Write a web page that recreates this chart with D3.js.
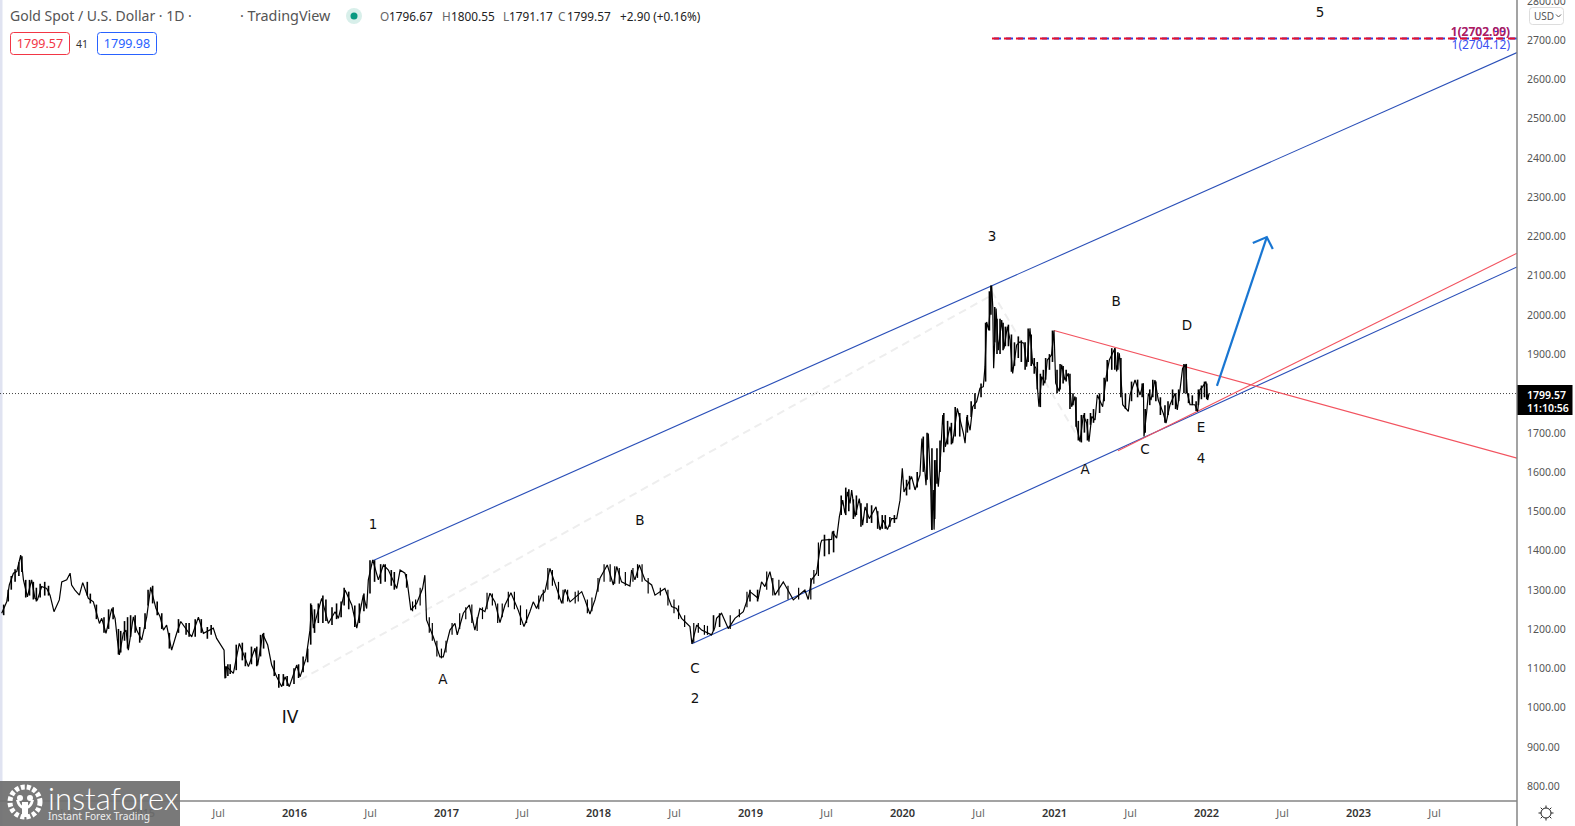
<!DOCTYPE html>
<html><head><meta charset="utf-8">
<script src="https://cdn.jsdelivr.net/npm/d3@7"></script>
<style>html,body{margin:0;padding:0;background:#fff;overflow:hidden}svg{display:block}text{font-family:"Noto Sans",sans-serif}</style>
</head><body><svg id="c" width="1575" height="826"></svg>
<script>
const priceYears=[
2014.077,2014.110,2014.127,2014.154,2014.176,2014.202,2014.220,2014.246,2014.274,2014.296,2014.312,2014.340,2014.373,2014.395,2014.421,2014.456,2014.472,2014.505,2014.527,2014.537,2014.559,2014.588,2014.610,2014.647,2014.680,2014.720,2014.735,2014.763,2014.801,2014.823,2014.838,2014.851,2014.877,2014.895,2014.910,2014.943,2014.965,2014.998,
2015.031,2015.057,2015.092,2015.119,2015.141,2015.162,2015.195,2015.228,2015.255,2015.327,2015.371,2015.404,2015.469,2015.491,2015.540,2015.546,2015.557,2015.601,2015.640,2015.700,2015.743,2015.761,2015.794,2015.827,2015.853,2015.886,2015.919,2015.941,2015.969,
2016.018,2016.040,2016.079,2016.105,2016.116,2016.127,2016.182,2016.226,2016.270,2016.292,2016.336,2016.380,2016.413,2016.456,2016.478,2016.489,2016.518,2016.555,2016.588,2016.621,2016.676,2016.698,2016.730,2016.745,2016.769,2016.807,2016.846,2016.861,2016.872,2016.916,2016.960,2016.982,
2017.026,2017.059,2017.074,2017.114,2017.153,2017.190,2017.223,2017.256,2017.289,2017.322,2017.355,2017.388,2017.427,2017.475,2017.513,2017.552,2017.574,2017.596,2017.629,2017.651,2017.684,2017.717,2017.761,2017.783,2017.816,2017.893,2017.914,2017.947,2017.980,
2018.013,2018.061,2018.101,2018.123,2018.155,2018.210,2018.221,2018.243,2018.272,2018.309,2018.353,2018.375,2018.440,2018.484,2018.517,2018.550,2018.605,2018.618,2018.649,2018.682,2018.747,2018.769,2018.780,2018.813,2018.857,2018.901,2018.956,
2019.000,2019.054,2019.076,2019.098,2019.131,2019.164,2019.219,2019.285,2019.361,2019.383,2019.405,2019.438,2019.465,2019.472,2019.537,2019.542,2019.570,2019.588,2019.610,2019.625,2019.640,2019.658,2019.669,2019.691,2019.719,2019.741,2019.757,2019.785,2019.829,2019.855,2019.877,2019.904,2019.932,2019.965,2019.987,
2020.002,2020.013,2020.063,2020.086,2020.118,2020.131,2020.145,2020.158,2020.173,2020.189,2020.195,2020.206,2020.211,2020.224,2020.239,2020.254,2020.268,2020.285,2020.316,2020.333,2020.364,2020.404,2020.415,2020.426,2020.448,2020.465,2020.491,2020.513,2020.535,2020.546,2020.557,2020.570,2020.590,2020.597,2020.603,2020.619,2020.634,2020.656,2020.671,2020.693,2020.711,2020.728,2020.754,2020.776,2020.802,2020.820,2020.842,2020.859,2020.881,2020.901,2020.919,2020.940,2020.956,2020.984,
2021.000,2021.011,2021.035,2021.050,2021.072,2021.094,2021.116,2021.138,2021.149,2021.171,2021.193,2021.215,2021.230,2021.248,2021.270,2021.285,2021.320,2021.342,2021.364,2021.401,2021.412,2021.430,2021.452,2021.489,2021.500,2021.533,2021.566,2021.588,2021.592,2021.610,2021.621,2021.638,2021.664,2021.686,2021.719,2021.737,2021.763,2021.796,2021.811,2021.829,2021.846,2021.866,2021.877,2021.895,2021.927,2021.945,2021.960,2021.978,
2022.000,2022.011,2022.020];
const prices=[
1240,1269,1312,1342,1346,1388,1325,1282,1325,1278,1274,1308,1303,1286,1244,1274,1320,1325,1342,1312,1299,1286,1318,1278,1269,1214,1227,1189,1252,1227,1172,1134,1189,1197,1146,1231,1197,1172,
1231,1306,1252,1231,1197,1210,1146,1189,1219,1180,1230,1189,1202,1176,1146,1074,1104,1087,1163,1104,1151,1108,1187,1159,1108,1078,1053,1078,1053,
1108,1078,1125,1197,1261,1202,1278,1214,1244,1227,1299,1261,1202,1286,1252,1325,1376,1325,1363,1350,1303,1350,1342,1320,1248,1265,1303,1337,1223,1180,1129,1129,
1197,1214,1185,1240,1261,1197,1252,1244,1291,1269,1216,1261,1292,1248,1206,1244,1269,1252,1286,1295,1354,1316,1265,1301,1269,1295,1274,1238,1274,
1329,1363,1312,1359,1320,1309,1350,1325,1363,1325,1312,1286,1303,1257,1252,1227,1206,1162,1210,1197,1185,1204,1227,1240,1201,1227,1244,
1295,1278,1320,1308,1346,1286,1320,1274,1299,1275,1325,1342,1418,1426,1428,1448,1431,1486,1528,1494,1549,1520,1554,1486,1532,1464,1511,1481,1511,1452,1477,1453,1481,1481,1528,
1609,1549,1588,1554,1592,1685,1630,1566,1698,1562,1453,1554,1453,1630,1562,1643,1745,1664,1715,1673,1762,1698,1673,1740,1706,1766,1779,1813,1817,1868,1982,1961,2074,2021,1864,2016,1910,1987,1914,1970,1936,1851,1923,1931,1928,1868,1966,1877,1864,1766,1843,1826,1885,1898,
1960,1826,1805,1873,1834,1851,1766,1792,1715,1677,1745,1724,1677,1741,1732,1796,1766,1839,1885,1915,1856,1902,1771,1754,1796,1834,1796,1826,1690,1754,1800,1783,1834,1783,1749,1724,1771,1800,1758,1809,1864,1873,1800,1771,1771,1754,1809,1817,
1830,1783,1800];

// daily high/low ranges read where the bars bunch up
const barYears=[
2014.09,2014.12,2014.14,2014.165,2014.19,2014.21,2014.235,2014.26,2014.285,2014.305,2014.33,2014.36,2014.385,
2014.64,2014.66,2014.70,2014.75,2014.78,2014.81,2014.845,2014.86,2014.885,2014.905,2014.925,2014.955,2014.985,
2015.02,2015.04,2015.07,2015.10,2015.13,2015.18,2015.24,2015.29,2015.31,2015.35,2015.39,2015.43,2015.455,2015.55,2015.565,2015.58,2015.62,2015.66,2015.68,2015.72,2015.755,2015.78,2015.80,2015.87,2015.90,2015.93,2015.955,
2016.00,2016.03,2016.06,2016.09,2016.11,2016.135,2016.16,2016.19,2016.21,2016.25,2016.28,2016.31,2016.33,2016.36,2016.40,2016.43,2016.46,2016.50,2016.53,2016.57,2016.60,2016.64,2016.66,
2018.76,2018.80,2019.00,2019.05,
2019.49,2019.52,2019.55,2019.60,2019.63,2019.65,2019.68,2019.70,2019.73,2019.77,2019.80,2019.84,2019.87,2019.89,2019.92,2019.95,
2020.03,2020.05,2020.10,2020.14,2020.165,2020.197,2020.215,2020.23,2020.25,2020.275,2020.30,2020.325,2020.35,2020.38,2020.43,2020.455,2020.48,2020.52,2020.55,2020.575,2020.585,2020.61,2020.625,2020.645,2020.665,2020.68,2020.70,2020.72,2020.74,2020.765,2020.785,2020.81,2020.83,2020.85,2020.87,2020.89,2020.91,2020.93,2020.945,2020.97,2020.99,
2021.02,2021.04,2021.06,2021.08,2021.105,2021.125,2021.145,2021.16,2021.18,2021.20,2021.22,2021.24,2021.26,2021.30,2021.33,2021.35,2021.38,2021.40,2021.42,2021.44,2021.47,2021.51,2021.55,2021.58,2021.60,2021.63,2021.65,2021.67,2021.70,2021.73,2021.75,2021.78,2021.80,2021.82,2021.855,2021.87,2021.885,2021.91,2021.935,2021.95,2021.97,2021.99,2022.005];
const barLows=[
1235,1270,1300,1320,1335,1345,1280,1285,1275,1270,1280,1285,1285,
1285,1265,1225,1190,1200,1225,1135,1140,1170,1150,1180,1190,1165,
1200,1260,1265,1235,1200,1150,1190,1185,1180,1180,1190,1175,1185,1075,1080,1085,1095,1120,1105,1110,1105,1130,1150,1080,1050,1055,1055,
1060,1075,1090,1115,1160,1190,1215,1215,1220,1210,1225,1230,1260,1250,1205,1215,1245,1290,1320,1315,1320,1310,1300,
1195,1205,1270,1270,
1385,1390,1395,1490,1490,1500,1480,1490,1460,1470,1470,1455,1455,1455,1460,1470,
1540,1555,1560,1600,1580,1452,1480,1570,1600,1650,1670,1670,1690,1690,1700,1740,1760,1790,1830,1960,2000,1930,1900,1900,1910,1920,1920,1855,1870,1890,1880,1860,1880,1870,1850,1810,1765,1820,1835,1860,1880,
1800,1810,1825,1830,1760,1770,1715,1680,1675,1700,1680,1720,1725,1750,1780,1830,1860,1860,1860,1790,1760,1780,1790,1790,1700,1770,1790,1780,1745,1725,1745,1770,1760,1780,1800,1800,1775,1770,1755,1770,1785,1790,1785];
const barHighs=[
1262,1300,1335,1352,1370,1385,1325,1325,1320,1305,1315,1320,1310,
1320,1290,1262,1230,1250,1255,1200,1195,1220,1230,1235,1235,1205,
1240,1300,1310,1270,1240,1190,1225,1215,1215,1225,1225,1205,1210,1105,1110,1110,1160,1165,1140,1155,1155,1185,1190,1120,1085,1085,1080,
1100,1110,1130,1150,1265,1250,1265,1285,1275,1255,1265,1270,1305,1295,1260,1265,1290,1375,1375,1365,1365,1350,1345,
1235,1240,1300,1300,
1440,1430,1450,1540,1560,1556,1530,1540,1520,1520,1515,1500,1490,1490,1485,1490,
1580,1590,1600,1690,1700,1660,1630,1660,1680,1750,1730,1725,1765,1750,1745,1780,1800,1825,1980,2060,2075,2020,1990,1990,1980,1970,1975,1950,1930,1945,1935,1930,1965,1950,1890,1880,1850,1860,1890,1900,1960,
1860,1875,1870,1860,1850,1800,1790,1730,1745,1750,1735,1750,1760,1800,1840,1885,1915,1915,1905,1890,1800,1830,1835,1825,1760,1810,1835,1830,1790,1770,1780,1810,1800,1810,1875,1875,1800,1795,1780,1810,1820,1830,1825];

// the quieter 2016-2019 stretch
const midBarYears=[
2016.74,2016.78,2016.80,2016.83,2016.89,2016.91,2016.94,2016.97,
2017.00,2017.04,2017.09,2017.13,2017.17,2017.205,2017.24,2017.27,2017.305,2017.34,2017.37,2017.41,2017.45,2017.49,2017.53,2017.61,2017.64,2017.67,2017.70,2017.74,2017.77,2017.80,2017.85,2017.87,2017.93,2017.96,
2018.00,2018.04,2018.08,2018.11,2018.14,2018.18,2018.23,2018.26,2018.29,2018.33,2018.41,2018.46,2018.50,2018.53,2018.57,2018.63,2018.66,2018.70,2018.72,2018.87,2018.93,2018.98,
2019.11,2019.15,2019.19,2019.25,2019.32,2019.40,2019.42,2019.45];
const midBarLows=[
1305,1245,1250,1260,1190,1170,1130,1125,
1140,1185,1200,1225,1215,1195,1225,1250,1260,1215,1230,1255,1250,1210,1215,1250,1270,1300,1310,1275,1265,1270,1265,1270,1240,1245,
1295,1320,1320,1315,1315,1310,1320,1330,1320,1290,1285,1260,1240,1225,1205,1165,1190,1185,1185,1200,1230,1255,
1300,1285,1285,1275,1275,1275,1315,1335];
const midBarHighs=[
1340,1270,1275,1305,1230,1215,1170,1150,
1170,1215,1240,1255,1262,1230,1255,1292,1290,1265,1265,1295,1295,1260,1250,1285,1300,1355,1350,1320,1300,1300,1295,1298,1275,1280,
1330,1365,1365,1360,1355,1345,1355,1365,1365,1330,1305,1300,1275,1260,1235,1215,1215,1210,1208,1235,1250,1295,
1346,1330,1325,1310,1305,1330,1350,1420];

const yTicks=[800,900,1000,1100,1200,1300,1400,1500,1600,1700,1800,1900,2000,2100,2200,2300,2400,2500,2600,2700,2800];
const xTicks=[2014.5,2015,2015.5,2016,2016.5,2017,2017.5,2018,2018.5,2019,2019.5,2020,2020.5,2021,2021.5,2022,2022.5,2023,2023.5];
const xTickLabels=["Jul","2015","Jul","2016","Jul","2017","Jul","2018","Jul","2019","Jul","2020","Jul","2021","Jul","2022","Jul","2023","Jul"];

const upperChannel=[[2016.518,1374],[2024.046,2668]];
const lowerChannel=[[2018.618,1162],[2024.046,2122]];
const redFalling=[[2021.0,1960],[2024.046,1635]];
const redRising=[[2021.421,1654],[2024.046,2157]];
const arrowLine=[[2022.072,1819],[2022.40,2198]];
const fibLine=[[2020.592,2704],[2024.046,2704]];
const fadedLegs=[[[2016.04,1070],[2020.59,2050]],[[2020.59,2060],[2021.17,1680]]];
const lastPrice=1799.57;
const waveLabels=[["5",2022.75,2771,13.5],["3",2020.592,2201,13.5],["1",2016.52,1467,13.5],["B",2018.276,1477,13.5],["A",2016.98,1072,13.5],["C",2018.638,1100,13.5],["2",2018.638,1024,13.5],["IV",2015.974,976,17],["B",2021.408,2035,13.5],["D",2021.875,1974,13.5],["E",2021.967,1714,13.5],["4",2021.967,1635,13.5],["C",2021.599,1658,13.5],["A",2021.204,1607,13.5]];
const ohlcLabels=[["O",380],["1796.67",389],["H",442],["1800.55",451],["L",503],["1791.17",509],["C",558],["1799.57",567],["+2.90 (+0.16%)",620]];

const AXX=1517,AXY=801;
const x=d3.scaleLinear().domain([2016,2023]).range([294,1358]);
const y=d3.scaleLinear().domain([800,2700]).range([786,40]);
const svg=d3.select("#c");
const pt=d=>[x(d[0]),y(d[1])];
const line=d3.line();

svg.append("defs").append("clipPath").attr("id","pl").append("rect").attr("x",0).attr("y",0).attr("width",AXX).attr("height",AXY);
svg.append("rect").attr("x",0).attr("y",0).attr("width",2.5).attr("height",826).attr("fill","#e0e3f1");
const plot=svg.append("g").attr("clip-path","url(#pl)");

fadedLegs.forEach(l=>plot.append("path").attr("d",line(l.map(pt))).attr("stroke","#eeeeee").attr("stroke-width",2).attr("stroke-dasharray","8 5").attr("fill","none"));
plot.append("line").attr("x1",0).attr("x2",AXX).attr("y1",y(lastPrice)).attr("y2",y(lastPrice)).attr("stroke","#444").attr("stroke-width",1).attr("stroke-dasharray","1 2");

[[upperChannel,"#2a4fb8"],[lowerChannel,"#2a4fb8"],[redFalling,"#f2535f"],[redRising,"#f2535f"]].forEach(([l,c])=>
  plot.append("path").attr("d",line(l.map(pt))).attr("stroke",c).attr("stroke-width",1.1).attr("fill","none"));

plot.append("path").attr("d",line(priceYears.map((v,i)=>pt([v,prices[i]])))).attr("fill","none").attr("stroke","#000").attr("stroke-width",1.2).attr("stroke-linejoin","miter").attr("stroke-miterlimit",2);
plot.append("g").selectAll("line").data(barYears).join("line")
  .attr("x1",d=>x(d)).attr("x2",d=>x(d)).attr("y1",(d,i)=>y(barLows[i])).attr("y2",(d,i)=>y(barHighs[i]))
  .attr("stroke","#000").attr("stroke-width",1.6);
plot.append("g").selectAll("line").data(midBarYears).join("line")
  .attr("x1",d=>x(d)).attr("x2",d=>x(d)).attr("y1",(d,i)=>y(midBarLows[i])).attr("y2",(d,i)=>y(midBarHighs[i]))
  .attr("stroke","#000").attr("stroke-width",1.2);

plot.append("path").attr("d",line(fibLine.map(pt))).attr("stroke","#2a3fe0").attr("stroke-width",2).attr("stroke-dasharray","7 5").attr("stroke-dashoffset",-2).attr("fill","none");
plot.append("path").attr("d",line(fibLine.map(pt))).attr("stroke","#e8102a").attr("stroke-width",2).attr("stroke-dasharray","7 5").attr("fill","none");

const a0=pt(arrowLine[0]),a1=pt(arrowLine[1]);
plot.append("path").attr("d",line([a0,a1])).attr("stroke","#1976d2").attr("stroke-width",2.2).attr("fill","none");
plot.append("path").attr("d",line([[a1[0]-14,a1[1]+6],a1,[a1[0]+6,a1[1]+12]])).attr("stroke","#1976d2").attr("stroke-width",2.2).attr("fill","none");

plot.append("text").attr("x",1510).attr("y",36).attr("text-anchor","end").attr("font-size",12).attr("fill","#2a3fe0").attr("font-weight",600).text("1(2702.99)");
plot.append("text").attr("x",1510).attr("y",36).attr("text-anchor","end").attr("font-size",12).attr("fill","#e8102a").attr("opacity",.75).attr("font-weight",600).text("1(2702.00)");
plot.append("text").attr("x",1510).attr("y",49).attr("text-anchor","end").attr("font-size",12).attr("fill","#3a4ff0").text("1(2704.12)");

svg.append("g").selectAll("text").data(waveLabels).join("text").attr("x",d=>x(d[1])).attr("y",d=>y(d[2])+d[3]*.36).attr("text-anchor","middle").attr("font-size",d=>d[3]).attr("fill","#111").style("font-family",'"DejaVu Sans",sans-serif').text(d=>d[0]);

// axes
const gy=svg.append("g").attr("transform",`translate(${AXX},0)`).call(d3.axisRight(y).tickValues(yTicks).tickSize(0).tickPadding(10).tickFormat(d3.format(".2f")));
gy.select(".domain").remove();
gy.selectAll("text").attr("font-size",10.5).attr("fill","#555").style("font-family",'"Noto Sans",sans-serif');
const gx=svg.append("g").attr("transform",`translate(0,${AXY})`).call(d3.axisBottom(x).tickValues(xTicks).tickSize(0).tickPadding(8).tickFormat((d,i)=>xTickLabels[i]));
gx.select(".domain").remove();
gx.selectAll("text").attr("font-size",11).attr("fill",d=>d%1===0?"#333":"#666").attr("font-weight",d=>d%1===0?600:400).style("font-family",'"Noto Sans",sans-serif');

svg.append("line").attr("x1",AXX).attr("x2",AXX).attr("y1",0).attr("y2",826).attr("stroke","#858585").attr("stroke-width",1.5);
svg.append("line").attr("x1",0).attr("x2",AXX).attr("y1",AXY).attr("y2",AXY).attr("stroke","#858585").attr("stroke-width",1.5);

// price tag
const tag=svg.append("g");
tag.append("rect").attr("x",AXX+.5).attr("y",385).attr("width",55).attr("height",30).attr("fill","#000");
tag.append("text").attr("x",1527).attr("y",399).attr("fill","#fff").attr("font-size",10.5).attr("font-weight",600).text("1799.57");
tag.append("text").attr("x",1527).attr("y",412).attr("fill","#fff").attr("font-size",10.5).attr("font-weight",600).text("11:10:56");

// USD box
svg.append("rect").attr("x",1529.5).attr("y",7.5).attr("width",34).attr("height",17).attr("rx",3).attr("fill","#fff").attr("stroke","#ddd");
svg.append("text").attr("x",1534).attr("y",20).attr("font-size",10).attr("fill","#555").text("USD");
svg.append("path").attr("d","M1556 14.5l2.5 2.5l2.5-2.5").attr("fill","none").attr("stroke","#555");

// settings icon
const gear=svg.append("g").attr("transform","translate(1546,813)").attr("stroke","#222").attr("fill","none");
gear.append("circle").attr("r",5);
d3.range(8).forEach(i=>{const a=i*Math.PI/4;gear.append("line").attr("x1",5*Math.cos(a)).attr("y1",5*Math.sin(a)).attr("x2",7.5*Math.cos(a)).attr("y2",7.5*Math.sin(a));});

// header
const h=svg.append("g");
h.append("text").attr("x",10).attr("y",21).attr("font-size",14).attr("fill","#555").text("Gold Spot / U.S. Dollar · 1D ·");
h.append("text").attr("x",240).attr("y",21).attr("font-size",14.4).attr("fill","#555").text("· TradingView");
h.append("circle").attr("cx",354).attr("cy",16).attr("r",8).attr("fill","#d8efea");
h.append("circle").attr("cx",354).attr("cy",16).attr("r",3.5).attr("fill","#089981");
h.selectAll(".o").data(ohlcLabels).join("text").attr("class","o").attr("x",d=>d[1]).attr("y",21).attr("font-size",11.8).attr("fill",d=>d[0].length===1?"#666":"#222").text(d=>d[0]);
h.append("rect").attr("x",10.5).attr("y",32.5).attr("width",59).attr("height",22).attr("rx",3).attr("fill","#fff").attr("stroke","#f23645");
h.append("text").attr("x",40).attr("y",48).attr("text-anchor","middle").attr("font-size",12.5).attr("fill","#f23645").text("1799.57");
h.append("text").attr("x",82).attr("y",48).attr("text-anchor","middle").attr("font-size",10.5).attr("fill","#333").text("41");
h.append("rect").attr("x",97.5).attr("y",32.5).attr("width",59).attr("height",22).attr("rx",3).attr("fill","#fff").attr("stroke","#2962ff");
h.append("text").attr("x",127).attr("y",48).attr("text-anchor","middle").attr("font-size",12.5).attr("fill","#2962ff").text("1799.98");

// watermark
const w=svg.append("g");
w.append("rect").attr("x",0).attr("y",781).attr("width",180).attr("height",45).attr("fill","#6f6f6f").attr("opacity",.93);
const wg=w.append("g").attr("transform","translate(25,802)").attr("fill","#fff");
wg.append("circle").attr("r",15).attr("fill","none").attr("stroke","#fff").attr("stroke-width",5).attr("stroke-dasharray","4 2");
wg.append("circle").attr("cx",-5).attr("cy",-4).attr("r",3);
wg.append("circle").attr("cx",5).attr("cy",-4).attr("r",3);
wg.append("path").attr("d","M-3 0h6v15h-6z");
wg.append("path").attr("d","M-9 -2q2 8 7 9v-3q-3-1-4-6zM9 -2q-2 8-7 9v-3q3-1 4-6z");
w.append("text").attr("x",48).attr("y",810).attr("font-size",31).attr("fill","#fff").attr("font-weight",300).style("font-family","Lato, sans-serif").text("instaforex");
w.append("text").attr("x",48).attr("y",820).attr("font-size",10.2).attr("fill","#eee").text("Instant Forex Trading");
</script></body></html>
